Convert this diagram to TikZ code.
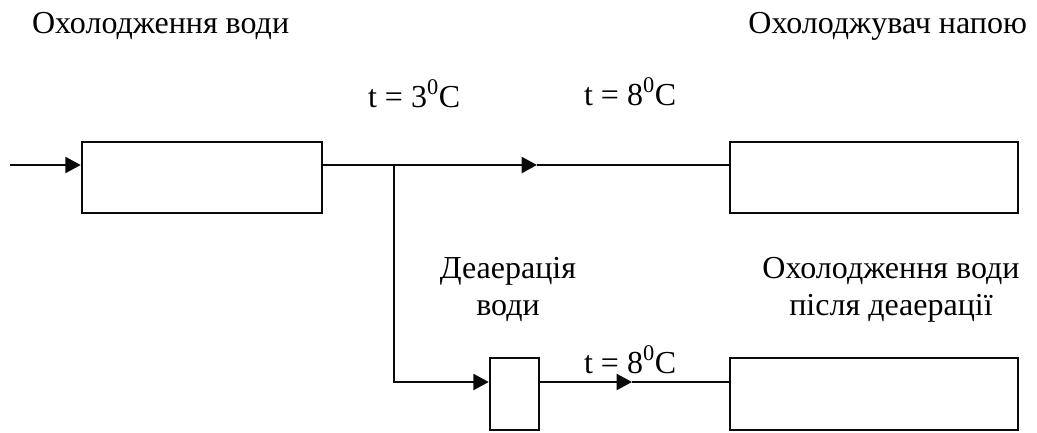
\documentclass[tikz,border=0pt]{standalone}
\usepackage{fontspec}
\setmainfont{Liberation Serif}
\usetikzlibrary{arrows.meta, calc}
\definecolor{linecol}{RGB}{10,10,10}

\begin{document}
\begin{tikzpicture}[
    x=0.75pt, y=-0.75pt,
    line width=1.6pt,
    draw=linecol,
    >={Triangle[length=11.5pt, width=12pt]},
    font=\fontsize{24}{27.75}\selectfont,
    block/.style={draw=linecol, line width=1.9pt, rectangle, inner sep=0pt, minimum height=53.25pt},
    caption/.style={inner sep=0pt, align=center}
  ]
  \useasboundingbox (0,0) rectangle (1037,432);

  % --- coordinates -----------------------------------------------------
  \coordinate (Inlet)   at (10,165);
  \coordinate (Split)   at (394,165);
  \coordinate (TopMark) at (537,165);
  \coordinate (LowMark) at (632,382);

  % --- blocks ----------------------------------------------------------
  \node[block, minimum width=180pt] (CoolBox)   at (202,177.5) {};
  \node[block, minimum width=216pt] (DrinkBox)  at (874,177.5) {};
  \node[block, minimum width=36.75pt, minimum height=54pt] (DeaBox) at (514.5,394) {};
  \node[block, minimum width=216pt, minimum height=54pt] (AfterBox) at (874,394) {};

  % --- upper line ------------------------------------------------------
  \draw[->] (Inlet) -- (Inlet -| CoolBox.west);
  \draw (Inlet -| CoolBox.east) -- (Split);
  \draw[->] (Split) -- (TopMark);
  \draw (TopMark) -- (TopMark -| DrinkBox.west);

  % --- branch to deaeration --------------------------------------------
  \draw[->] (Split) |- (LowMark -| DeaBox.west);
  \draw[->] (LowMark -| DeaBox.east) -- (LowMark);
  \draw (LowMark) -- (LowMark -| AfterBox.west);

  % --- labels ----------------------------------------------------------
  \node[caption, anchor=base west] (TitleCool)  at (31,33)   {Охолодження води};
  \node[caption, anchor=base east] (TitleDrink) at (1028,33) {Охолоджувач напою};
  \node[caption, anchor=base west] (TempCold)   at (367,107) {t = 3\textsuperscript{0}C};
  \node[caption, anchor=base west] (TempTop)    at (583,105) {t = 8\textsuperscript{0}C};
  \node[caption, anchor=base]      (TitleDea)   at (508,315) {Деаерація\\води};
  \node[caption, anchor=base]      (TitleAfter) at (891,315) {Охолодження води\\після деаерації};
  \node[caption, anchor=base west] (TempLow)    at (583,373) {t = 8\textsuperscript{0}C};

\end{tikzpicture}
\end{document}
